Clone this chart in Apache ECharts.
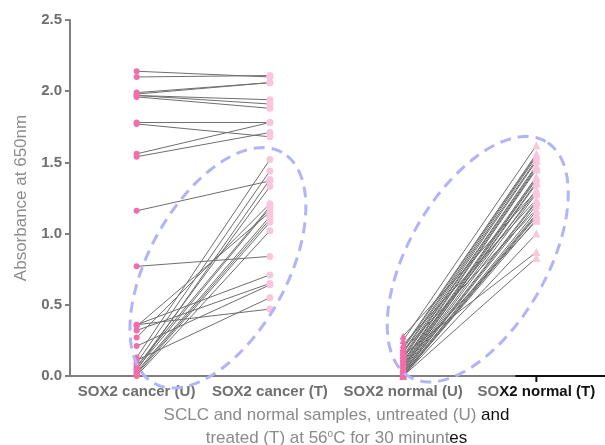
<!DOCTYPE html>
<html>
<head>
<meta charset="utf-8">
<title>SOX2 absorbance</title>
<script src="https://cdn.jsdelivr.net/npm/echarts@6/dist/echarts.min.js"></script>
<style>
    html, body { margin: 0; padding: 0; background: #fff; }
    .chart { width: 605px; height: 445px; }
</style>
</head>
<body>
<div class="chart"></div>
<script>
// 横轴分类
var categories = ['SOX2 cancer (U)', 'SOX2 cancer (T)', 'SOX2 normal (U)', 'SOX2 normal (T)'];
// 纵轴刻度
var yTicks = [0, 0.5, 1.0, 1.5, 2.0, 2.5];

// 癌症样本 未处理(U) / 处理后(T)，一一配对
var cancerU = [2.14, 2.10, 1.99, 1.98, 1.97, 1.97, 1.96, 1.78, 1.77, 1.56, 1.54,
    1.16, 0.77, 0.36, 0.36, 0.35, 0.32, 0.27, 0.21, 0.13, 0.11,
    0.09, 0.07, 0.06, 0.05, 0.04, 0.03, 0.02, 0.01, 0.0];
var cancerT = [2.10, 2.11, 2.06, 2.06, 1.94, 1.91, 1.88, 1.78, 1.68, 1.78, 1.71,
    1.37, 0.84, 0.47, 0.71, 1.15, 0.65, 1.21, 0.64, 1.52, 0.55,
    1.44, 1.19, 1.33, 1.18, 1.38, 1.12, 1.10, 1.08, 1.02];

// 正常样本 未处理(U) / 处理后(T)
var normalU = [0.28, 0.25, 0.22, 0.20, 0.19, 0.18, 0.17, 0.16, 0.15, 0.14, 0.13,
    0.12, 0.11, 0.10, 0.09, 0.08, 0.08, 0.07, 0.06, 0.05, 0.05, 0.04,
    0.03, 0.03, 0.02, 0.02, 0.01, 0.01, 0.0, 0.0, 0.0, 0.0, 0.0];
var normalT = [1.30, 1.62, 1.24, 1.56, 1.55, 1.17, 1.54, 1.52, 0.87, 1.51, 1.48,
    1.47, 1.29, 1.46, 1.45, 1.40, 1.09, 1.39, 1.38, 1.36, 1.35, 1.31,
    1.28, 1.23, 1.22, 1.20, 1.16, 1.14, 1.13, 1.12, 1.10, 1.00, 0.83];

(function () {
    var myChart = echarts.init(document.querySelector(".chart"));

    var grey = '#6f6f6f';
    var lineColor = '#6e6e6e';
    var pinkDark = '#f26eaa';
    var pinkLight = '#f9c6dc';
    var font = 'Liberation Sans, Arial, sans-serif';

    // 每一对样本画一条连线
    var series = [];
    cancerU.forEach(function (u, i) {
        series.push({
            type: 'line', silent: true, symbol: 'none', z: 2,
            lineStyle: { color: lineColor, width: 1 },
            data: [[0, u], [1, cancerT[i]]]
        });
    });
    normalU.forEach(function (u, i) {
        series.push({
            type: 'line', silent: true, symbol: 'none', z: 2,
            lineStyle: { color: lineColor, width: 1 },
            data: [[2, u], [3, normalT[i]]]
        });
    });

    // 散点
    function pts(arr, idx) {
        return arr.map(function (v) { return [idx, v]; });
    }
    series.push(
        { type: 'scatter', z: 3, symbol: 'circle', symbolSize: 6, itemStyle: { color: pinkDark, opacity: 1 }, data: pts(cancerU, 0) },
        { type: 'scatter', z: 3, symbol: 'circle', symbolSize: 7, itemStyle: { color: pinkLight, opacity: 1 }, data: pts(cancerT, 1) },
        { type: 'scatter', z: 3, symbol: 'triangle', symbolSize: 7, itemStyle: { color: pinkDark, opacity: 1 }, data: pts(normalU, 2) },
        { type: 'scatter', z: 3, symbol: 'triangle', symbolSize: 8, itemStyle: { color: pinkLight, opacity: 1 }, data: pts(normalT, 3) }
    );

    var option = {
        animation: false,
        grid: { left: 70, right: 2, top: 20, bottom: 69, containLabel: false, outerBoundsMode: 'none' },
        xAxis: {
            type: 'category',
            data: categories,
            axisLine: { lineStyle: { color: '#808080', width: 2 } },
            axisTick: { alignWithLabel: true, length: 5, lineStyle: { color: '#808080', width: 2 } },
            axisLabel: {
                interval: 0,
                hideOverlap: false,
                margin: 8,
                color: grey,
                fontFamily: font,
                fontWeight: 'bold',
                fontSize: 15,
                formatter: function (v, i) {
                    // 原图最后一个标签大部分是黑色
                    if (i === 3) return '{g|SO}{k|X2 normal (T)}';
                    return '{g|' + v + '}';
                },
                rich: {
                    g: { color: grey, fontWeight: 'bold', fontSize: 15, fontFamily: font },
                    k: { color: '#111', fontWeight: 'bold', fontSize: 15, fontFamily: font }
                }
            },
            name: '{g|SCLC and normal samples, untreated (U) }{k|and}\n{g|treated (T) at 56}{sup|o}{g|C for 30 minunt}{k|es}',
            nameLocation: 'middle',
            nameGap: 25,
            nameTextStyle: {
                fontSize: 17,
                color: '#8a8a8a',
                lineHeight: 23,
                fontFamily: font,
                rich: {
                    g: { color: '#8a8a8a', fontSize: 17, lineHeight: 23, fontFamily: font },
                    k: { color: '#111', fontSize: 17, lineHeight: 23, fontFamily: font },
                    sup: { color: '#8a8a8a', fontSize: 10, lineHeight: 23, padding: [0, 0, 9, 0], fontFamily: font }
                }
            }
        },
        yAxis: {
            type: 'value',
            min: yTicks[0],
            max: yTicks[yTicks.length - 1],
            interval: 0.5,
            splitLine: { show: false },
            axisLine: { show: true, lineStyle: { color: '#808080', width: 2 } },
            axisTick: { show: true, length: 5, lineStyle: { color: '#808080', width: 2 } },
            axisLabel: {
                color: grey,
                fontWeight: 'bold',
                fontSize: 15,
                fontFamily: font,
                formatter: function (v) { return v.toFixed(1); }
            },
            name: 'Absorbance at 650nm',
            nameLocation: 'middle',
            nameGap: 31,
            nameTextStyle: {
                color: '#8c8c8c',
                fontSize: 17,
                fontFamily: font
            }
        },
        series: series
    };
    myChart.setOption(option);

    // 虚线椭圆（标注），位置按坐标换算
    function px(xIdx, v) {
        return myChart.convertToPixel({ gridIndex: 0 }, [xIdx, v]);
    }
    function ellipse(cx, cy, a, b, deg) {
        var th = deg * Math.PI / 180, out = [];
        for (var k = 0; k < 160; k++) {
            var t = k / 160 * Math.PI * 2;
            var ex = a * Math.cos(t), ey = b * Math.sin(t);
            out.push([cx + ex * Math.cos(th) - ey * Math.sin(th),
                      cy - (ex * Math.sin(th) + ey * Math.cos(th))]);
        }
        return out;
    }
    var c0 = px(0, 0.76), c1 = px(1, 0.76);
    var n0 = px(2, 0.82), n1 = px(3, 0.82);
    var cx1 = c0[0] + 0.61 * (c1[0] - c0[0]);
    var cx2 = n0[0] + 0.56 * (n1[0] - n0[0]);
    var zero3 = px(3, 0);
    var dash = { fill: 'none', stroke: '#b3b3f7', lineWidth: 3, lineDash: [11, 7] };

    myChart.setOption({
        graphic: [
            { type: 'polygon', z: 10, silent: true, shape: { points: ellipse(cx1, c0[1], 132, 69, 61) }, style: dash },
            { type: 'polygon', z: 10, silent: true, shape: { points: ellipse(cx2, n0[1], 136, 69, 60) }, style: dash },
            // 原图坐标轴右端是一段黑线
            { type: 'line', z: 11, silent: true, shape: { x1: zero3[0] - 21, y1: zero3[1], x2: 605, y2: zero3[1] }, style: { stroke: '#111', lineWidth: 2 } },
            { type: 'line', z: 11, silent: true, shape: { x1: zero3[0], y1: zero3[1], x2: zero3[0], y2: zero3[1] + 6 }, style: { stroke: '#111', lineWidth: 2 } }
        ]
    });

    window.addEventListener("resize", function () {
        myChart.resize();
    });
})();
</script>
</body>
</html>
